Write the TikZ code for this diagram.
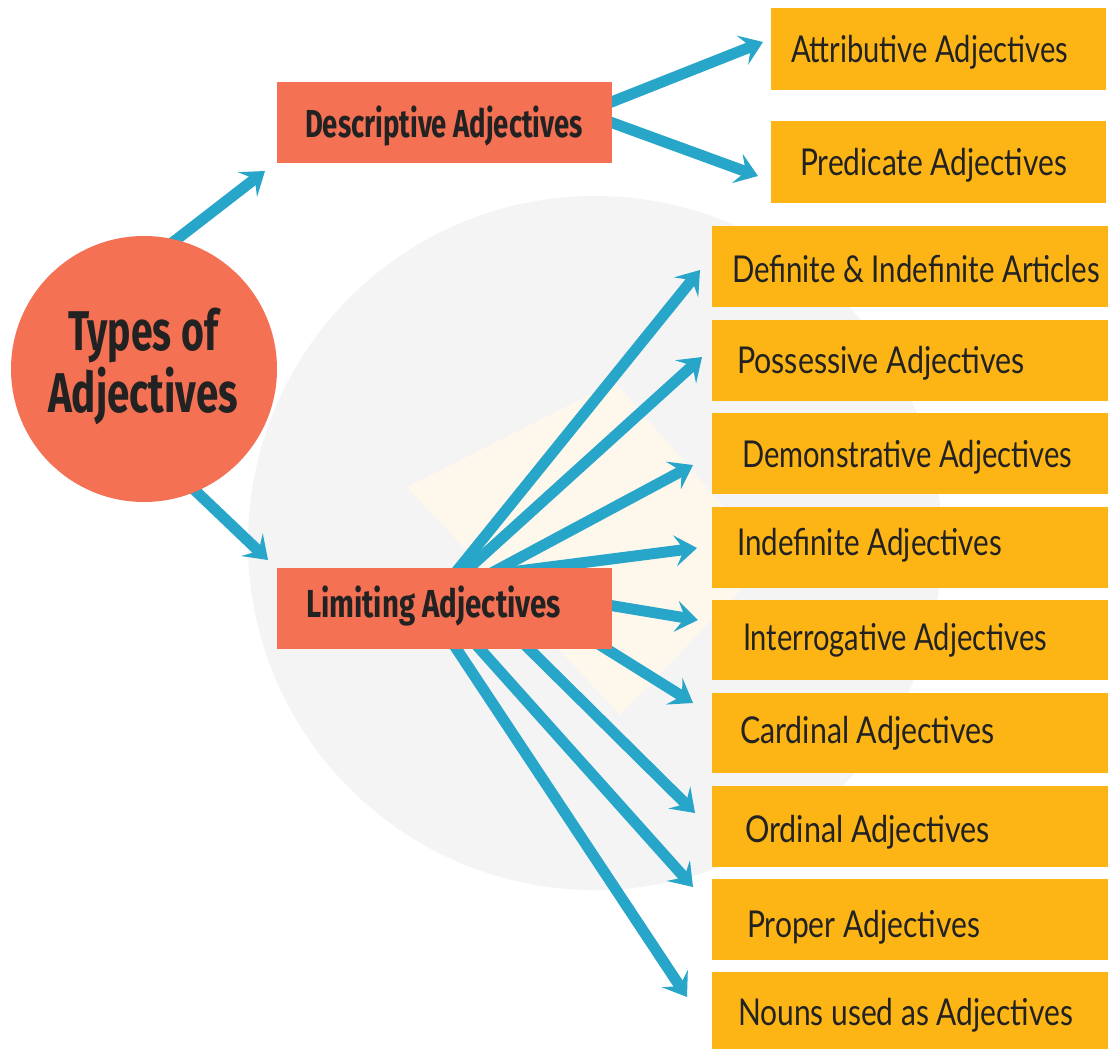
\documentclass[tikz,border=0pt]{standalone}
\usepackage{fontspec}
\usepackage{graphicx}
\setmainfont{Lato}
\newfontfamily\headfont{Fira Sans}
\usetikzlibrary{arrows.meta,calc}
\pgfdeclarelayer{background}
\pgfsetlayers{background,main}
\definecolor{coral}{HTML}{F47154}
\definecolor{amber}{HTML}{FDB515}
\definecolor{arrowblue}{HTML}{28A6CA}
\definecolor{bggray}{HTML}{F4F4F4}
\definecolor{cream}{HTML}{FEF7EC}
\definecolor{ink}{HTML}{222222}
\tikzset{
  abox/.style={fill=amber, draw=none, inner sep=0pt, outer sep=0pt, anchor=north west},
  cbox/.style={fill=coral, draw=none, inner sep=0pt, outer sep=0pt, anchor=north west, minimum width=335pt, minimum height=81pt},
  lbl/.style={inner sep=0pt, outer sep=0pt, anchor=base west, text=ink, font=\fontsize{37}{40}\selectfont},
  hlbl/.style={inner sep=0pt, outer sep=0pt, anchor=base west, text=ink, font=\headfont\bfseries\fontsize{39}{44}\selectfont},
  tlbl/.style={inner sep=0pt, outer sep=0pt, anchor=base west, text=ink, font=\headfont\bfseries\fontsize{56}{60}\selectfont},
  arr/.style={draw=arrowblue, line width=11pt, -{Stealth[length=22pt,width=31pt,inset=9pt]}}
}
\begin{document}
\begin{tikzpicture}[x=1pt,y=-1pt]
\useasboundingbox (0,0) rectangle (1108,1049);

% root circle
\node[circle, fill=coral, draw=none, minimum size=266pt, inner sep=0pt] (root) at (144,369) {};
\node[tlbl] (rootA) at (68,350) {\resizebox{150pt}{\height}{Types of}};
\node[tlbl] (rootB) at (48,412) {\resizebox{190pt}{\height}{Adjectives}};

% level 1
\node[cbox] (desc) at (277,82) {};
\node[hlbl] (descl) at (305,137) {\resizebox{278pt}{\height}{Descriptive Adjectives}};
\node[cbox] (lim) at (277,568) {};
\node[hlbl] (liml) at (306,617) {\resizebox{255pt}{\height}{Limiting Adjectives}};

% level 2 boxes
\node[abox, minimum width=335pt, minimum height=82pt] (att) at (771,8) {};
\node[abox, minimum width=335pt, minimum height=82pt] (pred) at (771,121) {};
\node[abox, minimum width=396pt, minimum height=81pt] (def) at (712,226) {};
\node[abox, minimum width=396pt, minimum height=81pt] (poss) at (712,320) {};
\node[abox, minimum width=396pt, minimum height=81pt] (dem) at (712,413) {};
\node[abox, minimum width=396pt, minimum height=81pt] (indef) at (712,507) {};
\node[abox, minimum width=396pt, minimum height=80pt] (inter) at (712,600) {};
\node[abox, minimum width=396pt, minimum height=80pt] (card) at (712,693) {};
\node[abox, minimum width=396pt, minimum height=81pt] (ord) at (712,786) {};
\node[abox, minimum width=396pt, minimum height=81pt] (prop) at (712,879) {};
\node[abox, minimum width=396pt, minimum height=80pt] (nouns) at (712,972) {};

\node[lbl] (attl) at (791,63) {\resizebox{277pt}{\height}{Attributive Adjectives}};
\node[lbl] (predl) at (800,175) {\resizebox{267pt}{\height}{Predicate Adjectives}};
\node[lbl] (defl) at (732,282) {\resizebox{368pt}{\height}{Definite \& Indefinite Articles}};
\node[lbl] (possl) at (737,373) {\resizebox{288pt}{\height}{Possessive Adjectives}};
\node[lbl] (deml) at (742,467) {\resizebox{330pt}{\height}{Demonstrative Adjectives}};
\node[lbl] (indefl) at (737,555) {\resizebox{265pt}{\height}{Indefinite Adjectives}};
\node[lbl] (interl) at (743,650) {\resizebox{304pt}{\height}{Interrogative Adjectives}};
\node[lbl] (cardl) at (740,743) {\resizebox{255pt}{\height}{Cardinal Adjectives}};
\node[lbl] (ordl) at (745,842) {\resizebox{245pt}{\height}{Ordinal Adjectives}};
\node[lbl] (propl) at (747,937) {\resizebox{233pt}{\height}{Proper Adjectives}};
\node[lbl] (nounsl) at (738,1025) {\resizebox{335pt}{\height}{Nouns used as Adjectives}};

\begin{pgfonlayer}{background}
  \fill[white] (0,0) rectangle (1108,1049);
  \fill[bggray] (595,543) circle[radius=347pt];
  \fill[cream] (407,487) -- (615,382) -- (770,560) -- (620,715) -- cycle;

  \draw[arr] ($(root.center)+(6,-109)$) -- ($(desc.south west)+(-12,8)$);
  \draw[arr] ($(root.center)+(16,88)$) -- ($(lim.north west)+(-9,-8)$);

  \draw[arr] ($(desc.east)+(-17,-14)$) -- ($(att.west)+(-8,-7)$);
  \draw[arr] ($(desc.east)+(-17,-6)$) -- ($(pred.west)+(-13,14)$);

  \draw[arr] ($(lim.north west)+(175,9)$) -- ($(def.west)+(-12,3.5)$);
  \draw[arr] ($(lim.north west)+(181,10)$) -- ($(poss.west)+(-10,-3.5)$);
  \draw[arr] ($(lim.north west)+(207,9)$) -- ($(dem.west)+(-19,11.5)$);
  \draw[arr] ($(lim.north west)+(210,7)$) -- ($(indef.west)+(-15,0.5)$);
  \draw[arr] ($(lim.north west)+(313,34)$) -- ($(inter.west)+(-14,-20)$);
  \draw[arr] ($(lim.north west)+(283,52)$) -- ($(card.west)+(-19,-30)$);
  \draw[arr] ($(lim.north west)+(233,62)$) -- ($(ord.west)+(-17,-13.5)$);
  \draw[arr] ($(lim.north west)+(186,62)$) -- ($(prop.west)+(-19,-32.5)$);
  \draw[arr] ($(lim.north west)+(167,62)$) -- ($(nouns.west)+(-25,-15)$);
\end{pgfonlayer}
\end{tikzpicture}
\end{document}
